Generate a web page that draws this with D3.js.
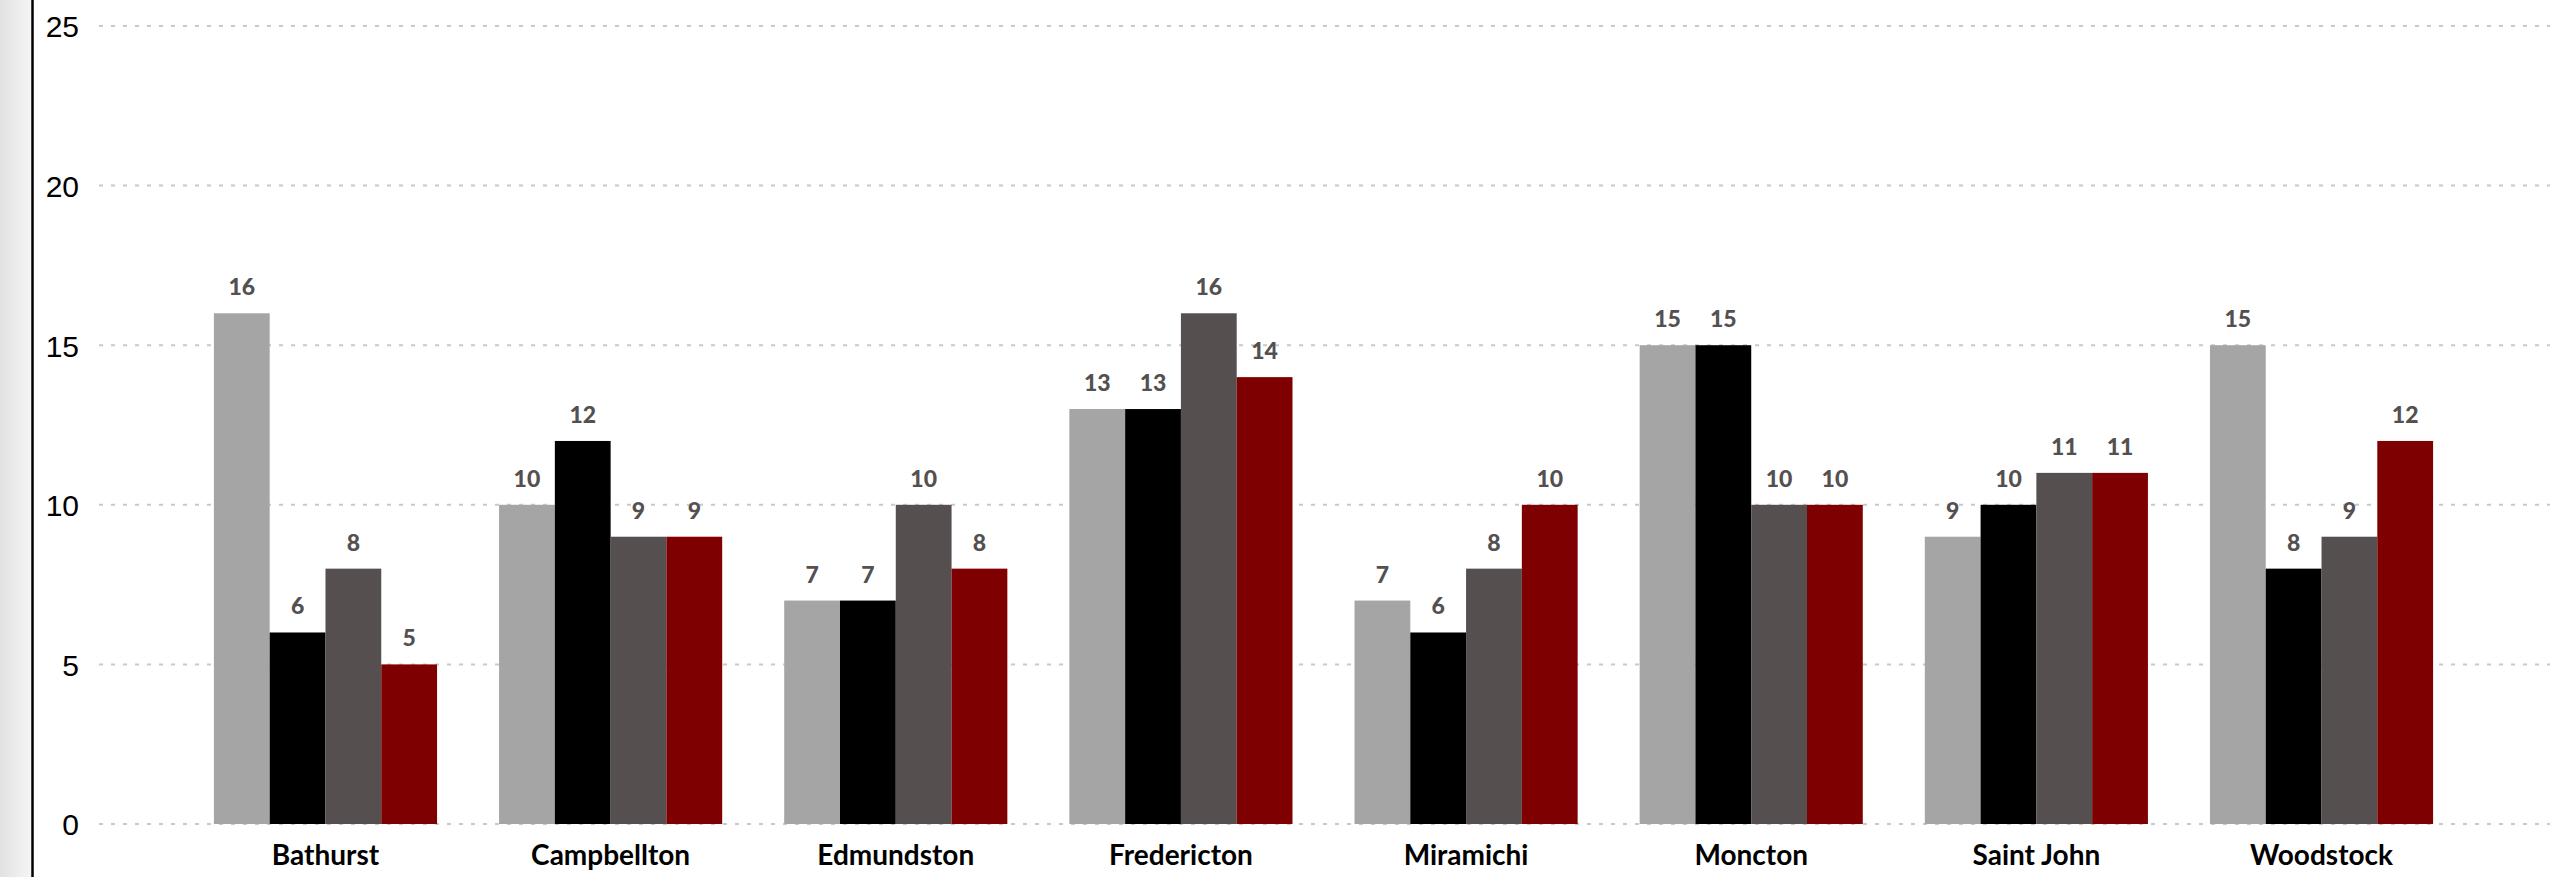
<!DOCTYPE html>
<html>
<head>
<meta charset="utf-8">
<script src="https://cdn.jsdelivr.net/npm/d3@7"></script>
<style>
  html, body { margin: 0; padding: 0; background: #ffffff; overflow: hidden; }
  svg { display: block; }
</style>
</head>
<body>
<svg id="chart" width="2550" height="877"></svg>
<script>
// ---- data ----
const categories = ["Bathurst", "Campbellton", "Edmundston", "Fredericton", "Miramichi", "Moncton", "Saint John", "Woodstock"];
const seriesNames = ["Series 1", "Series 2", "Series 3", "Series 4"];
const series1 = [16, 10, 7, 13, 7, 15, 9, 15];
const series2 = [6, 12, 7, 13, 6, 15, 10, 8];
const series3 = [8, 9, 10, 16, 8, 10, 11, 9];
const series4 = [5, 9, 8, 14, 10, 10, 11, 12];
const yTicks = [0, 5, 10, 15, 20, 25];

const seriesValues = [series1, series2, series3, series4];
const colors = ["#a5a5a5", "#000000", "#554f4f", "#7f0000"];

const W = 2550, H = 877;
const svg = d3.select("#chart");

// left strip
const defs = svg.append("defs");
const grad = defs.append("linearGradient").attr("id", "strip").attr("x1", "0").attr("x2", "1").attr("y1", "0").attr("y2", "0");
grad.append("stop").attr("offset", "0").attr("stop-color", "#e2e2e2");
grad.append("stop").attr("offset", "1").attr("stop-color", "#f5f5f5");
svg.append("rect").attr("x", 0).attr("y", 0).attr("width", 31).attr("height", H).attr("fill", "url(#strip)");
svg.append("line").attr("x1", 32.5).attr("x2", 32.5).attr("y1", 0).attr("y2", H).attr("stroke", "#000").attr("stroke-width", 2.5);

// scales
const y = d3.scaleLinear().domain([0, 25]).range([824, 26]);
const x0 = d3.scaleBand().domain(categories).range([99, 2548]).paddingInner(0.2175).paddingOuter(0.403);
const x1 = d3.scaleBand().domain(seriesNames).range([0, x0.bandwidth()]).padding(0);

// gridlines
svg.append("g").selectAll("line").data(yTicks).join("line")
  .attr("x1", 99).attr("x2", W)
  .attr("y1", d => y(d)).attr("y2", d => y(d))
  .attr("stroke", "#c9c9c9").attr("stroke-width", 2).attr("stroke-dasharray", "4,8");

// y axis labels
const yAxis = d3.axisLeft(y).tickValues(yTicks).tickSize(0).tickPadding(0);
const yg = svg.append("g").attr("transform", "translate(79,0)").call(yAxis);
yg.select(".domain").remove();
yg.selectAll("text").attr("font-family", "'Liberation Sans', Arial, sans-serif").attr("font-size", 30).attr("fill", "#000").attr("dy", "0.36em");

// bars
const groups = svg.append("g").selectAll("g").data(categories).join("g")
  .attr("transform", d => `translate(${x0(d)},0)`);

groups.selectAll("rect").data((c, i) => seriesNames.map((s, j) => ({ s, j, v: seriesValues[j][i] })))
  .join("rect")
  .attr("x", d => x1(d.s)).attr("width", x1.bandwidth())
  .attr("y", d => y(d.v)).attr("height", d => y(0) - y(d.v))
  .attr("fill", d => colors[d.j]);

groups.selectAll("text.val").data((c, i) => seriesNames.map((s, j) => ({ s, j, v: seriesValues[j][i] })))
  .join("text").attr("class", "val")
  .attr("x", d => x1(d.s) + x1.bandwidth() / 2)
  .attr("y", d => y(d.v) - 18)
  .attr("text-anchor", "middle")
  .attr("font-family", "Lato, 'Open Sans', sans-serif").attr("font-weight", 900).attr("font-size", 23)
  .attr("fill", "#555050")
  .text(d => d.v);

// x axis labels
const xAxis = d3.axisBottom(x0).tickSize(0).tickPadding(0);
const xg = svg.append("g").attr("transform", "translate(0,865)").call(xAxis);
xg.select(".domain").remove();
xg.selectAll("text").attr("font-family", "Lato, 'Open Sans', sans-serif").attr("font-weight", 700).attr("font-size", 28).attr("fill", "#000").attr("dy", 0);
</script>
</body>
</html>
